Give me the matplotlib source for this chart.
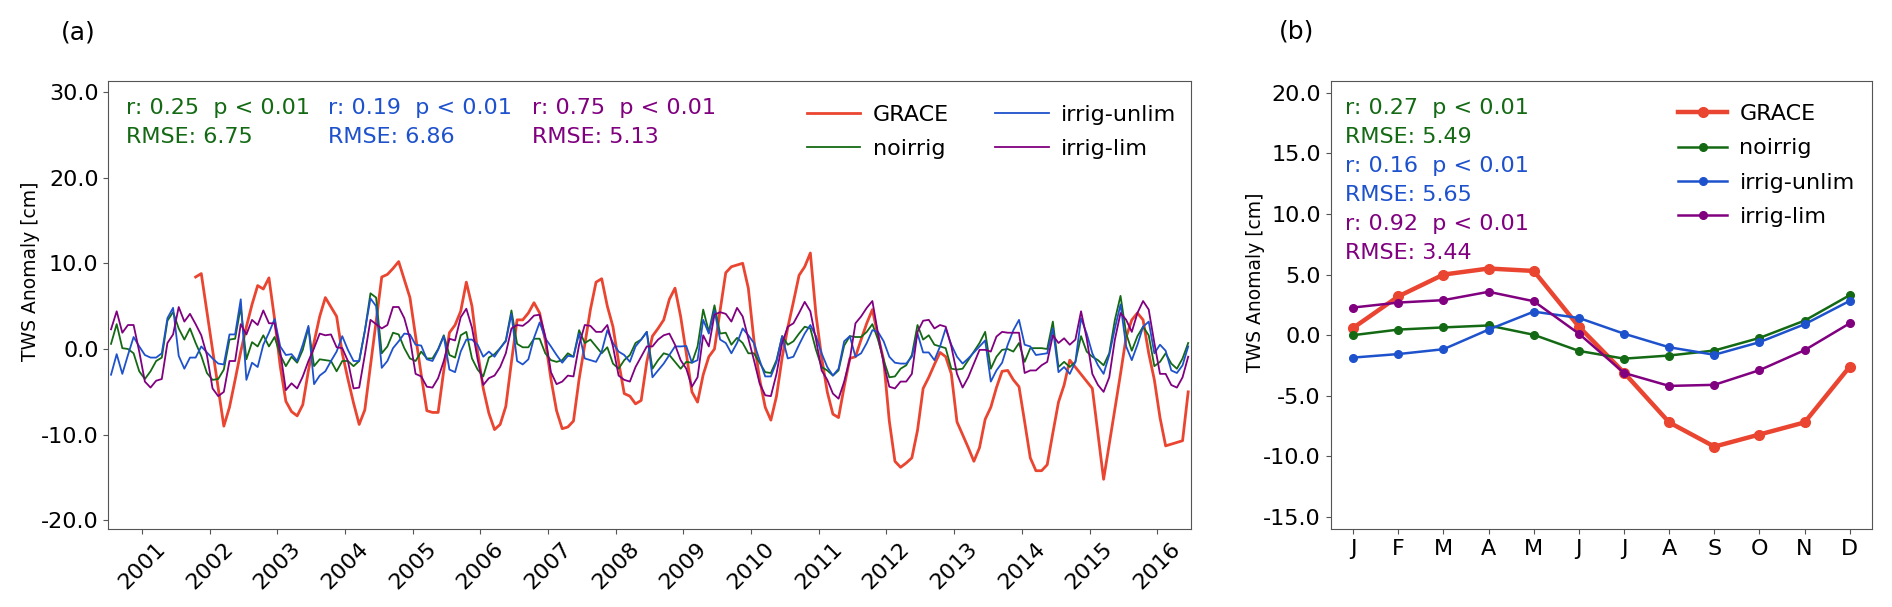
import numpy as np
import matplotlib
matplotlib.use("Agg")
import matplotlib.pyplot as plt
from matplotlib.ticker import FormatStrFormatter

nan = np.nan

# monthly TWS anomaly [cm], Jul 2000 .. Jun 2016 (one row = 12 months)
grace = [
    nan, nan, nan, nan, nan, nan, nan, nan, nan, nan, nan, nan,
    nan, nan, nan, 8.4, 8.8, nan, nan, nan, -9.0, -6.8, -3.6, -0.3,
    2.6, 5.2, 7.4, 7.0, 8.3, 3.5, -2.0, -6.1, -7.3, -7.8, -6.5, -2.5,
    0.8, 3.8, 6.0, 4.9, 3.8, -0.5, -3.5, -6.3, -8.8, -7.1, -2.0, 3.2,
    8.4, 8.7, 9.4, 10.2, 8.1, 6.0, 1.5, -3.0, -7.2, -7.4, -7.4, -2.5,
    1.9, 2.8, 4.4, 7.8, 5.0, -0.3, -4.6, -7.5, -9.4, -8.8, -6.7, -1.5,
    3.4, 3.4, 4.2, 5.4, 4.2, 1.0, -3.5, -7.2, -9.3, -9.1, -8.4, -3.5,
    0.5, 4.6, 7.8, 8.2, 5.0, 2.6, -1.5, -5.2, -5.5, -6.4, -6.0, -1.5,
    1.5, 2.4, 3.4, 5.8, 7.1, 3.8, -0.5, -5.0, -6.2, -3.0, -0.9, 0.0,
    4.5, 8.9, 9.6, 9.8, 10.0, 7.1, 1.0, -3.5, -6.8, -8.3, -5.5, -1.0,
    2.5, 5.5, 8.6, 9.6, 11.2, 4.0, -1.0, -5.0, -7.6, -8.0, -4.4, -1.1,
    -0.9, 1.1, 3.0, 4.6, 1.5, -1.3, -8.4, -13.1, -13.8, -13.3, -12.7, -9.5,
    -4.6, -3.3, -1.8, -0.4, -0.9, -2.9, -8.5, -10.0, -11.5, -13.1, -11.5, -8.2,
    -6.8, -4.5, -2.6, -2.5, -3.6, -4.4, -8.5, -12.7, -14.2, -14.2, -13.5, -9.8,
    -6.2, -4.2, -1.3, nan, nan, nan, -4.6, nan, -15.2, nan, nan, -2.9,
    1.4, 3.4, 4.2, 3.4, -0.5, -3.6, -8.0, -11.3, -11.1, -10.9, -10.7, -5.0,
]

noirrig = [
    0.6, 2.9, 0.1, 0.0, -0.5, -2.6, -3.5, -2.6, -1.4, -1.0, 3.3, 4.3,
    2.4, 1.1, 2.4, 0.7, -0.8, -2.8, -3.6, -3.5, -2.4, 1.1, 1.2, 4.9,
    -1.2, 0.8, 0.3, 1.6, 0.3, 1.4, -0.7, -2.0, -0.9, -1.6, -0.1, 2.5,
    -2.0, -1.2, -1.3, -1.4, -2.6, -1.4, -1.4, -2.0, -1.4, 2.1, 6.5, 6.0,
    -0.5, 0.3, 1.9, 1.7, 0.1, -1.1, -1.4, -0.3, -1.1, -1.1, 0.0, 1.6,
    -0.7, -1.0, 1.6, 2.0, -1.1, -2.4, -3.2, -1.0, -0.6, 0.1, 1.0, 4.5,
    0.6, 0.2, 0.2, 1.2, 1.2, -0.5, -1.3, -1.5, -1.3, -0.5, -0.9, 2.2,
    0.7, 1.1, 0.3, -0.5, 0.2, -1.7, -2.3, -1.3, -0.7, 0.7, 1.1, 2.0,
    -2.3, -1.3, -0.5, -0.7, -1.5, -2.3, -1.5, -1.6, 0.3, 4.6, 2.0, 5.1,
    1.8, 1.9, 0.5, 1.3, 0.7, -0.5, -0.5, -1.6, -2.7, -2.8, -1.3, 1.5,
    0.5, 0.9, 1.8, 2.6, 2.4, -0.1, -2.1, -2.5, -3.1, -2.5, 0.4, 1.5,
    1.4, 1.4, 2.0, 2.9, 1.1, -1.3, -3.3, -3.2, -2.3, -1.9, -0.7, 2.8,
    1.1, 1.6, 0.5, 0.3, 0.1, -2.3, -2.4, -2.3, -1.3, -0.3, 0.7, 2.0,
    -2.3, -0.9, -0.1, 0.0, -0.3, 0.7, -1.5, 0.1, 0.1, 0.1, 0.0, 3.2,
    -2.1, -1.5, -2.1, -1.5, 1.5, -0.3, -0.9, -1.3, -1.9, -0.5, 3.4, 6.2,
    1.8, -0.2, 1.5, 2.6, 1.6, -2.0, -1.5, -0.5, -1.7, -2.3, -1.1, 0.7,
]

irrig_unlim = [
    -3.0, -0.6, -2.9, -0.7, 1.4, 0.3, -0.7, -1.0, -1.0, -0.5, 3.6, 4.8,
    -0.8, -2.3, -1.0, -1.0, 0.3, -0.4, -1.1, -1.7, -1.8, 1.7, 1.7, 5.8,
    -3.6, -1.6, -2.1, 0.5, 1.9, 3.5, 0.3, -0.7, -0.6, -1.4, 0.5, 2.7,
    -4.1, -3.1, -2.6, -1.4, -0.3, 1.5, -0.1, -1.4, -1.4, 2.1, 5.9, 5.0,
    -2.2, -1.4, 0.1, 0.9, 1.8, 1.7, 0.5, 0.4, -1.2, -1.4, -0.1, 1.5,
    -2.4, -2.7, -0.3, 1.1, 1.1, 0.5, -0.9, -0.3, -0.9, 0.1, 0.9, 4.1,
    -1.4, -1.8, -1.2, 1.3, 3.1, 1.25, 0.3, -0.7, -1.6, -0.8, -0.9, 1.8,
    -1.1, -1.3, -1.5, -0.3, 2.2, 0.7, -0.3, -0.7, -1.5, 0.3, 1.1, 2.0,
    -3.3, -2.5, -1.7, -0.7, 0.3, 0.3, 0.35, -1.6, -1.3, 3.4, 1.8, 4.5,
    1.1, 0.7, -0.5, 0.7, 2.4, 1.6, 0.7, -1.3, -3.2, -3.2, -1.5, 1.5,
    -1.1, -0.9, 0.5, 1.8, 2.8, 1.5, -0.5, -2.1, -3.1, -2.3, 0.9, 1.5,
    -0.9, -0.5, 0.7, 2.2, 2.0, 0.9, -0.9, -1.6, -1.7, -1.7, -0.9, 1.8,
    -0.4, -0.4, -1.3, 0.3, 2.4, 0.5, -0.9, -1.7, -1.1, -0.4, 0.3, 1.0,
    -3.8, -2.5, -1.6, 0.5, 2.2, 3.4, 0.5, 0.3, -0.7, -0.6, -0.5, 2.4,
    -2.7, -2.1, -2.9, -1.5, 3.6, 1.8, -0.5, -1.9, -2.9, -0.7, 2.4, 5.2,
    0.3, -1.3, 0.5, 2.6, 3.2, -0.5, 0.5, -0.2, -2.5, -2.8, -1.9, 0.3,
]

irrig_lim = [
    2.3, 4.4, 1.9, 2.8, 2.8, -0.3, -3.8, -4.5, -3.7, -3.5, 0.7, 1.7,
    4.9, 3.2, 4.1, 2.9, 1.6, -0.7, -4.6, -5.5, -5.0, -1.4, -1.4, 2.9,
    1.7, 3.4, 2.8, 4.5, 3.0, 3.0, -0.3, -4.8, -4.0, -4.6, -3.2, -1.4,
    0.1, 1.8, 1.6, 1.7, 0.2, 0.1, -1.4, -4.6, -4.5, -0.7, 3.4, 2.9,
    2.4, 2.8, 4.9, 4.9, 3.6, 1.2, -2.9, -3.2, -4.4, -4.5, -3.4, -1.4,
    1.2, 1.0, 3.7, 4.7, 2.5, -1.2, -4.2, -3.4, -3.1, -2.1, -0.5, 2.4,
    2.8, 2.7, 3.2, 3.9, 4.0, 1.5, -2.7, -4.1, -3.8, -3.1, -3.2, 0.5,
    2.8, 2.7, 2.0, 2.0, 2.8, 0.3, -3.1, -3.6, -3.8, -2.1, -0.9, 0.3,
    0.3, 1.1, 1.6, 1.8, 0.5, -1.3, -2.3, -4.4, -3.3, 1.6, 0.3, 4.0,
    4.3, 4.1, 3.2, 4.8, 3.8, 1.25, -1.3, -4.0, -5.4, -5.5, -2.9, 0.7,
    2.6, 3.0, 4.2, 5.5, 4.4, 1.1, -2.5, -3.6, -5.2, -5.8, -3.8, -1.2,
    3.0, 3.8, 4.8, 5.6, 1.8, -1.7, -4.4, -4.6, -3.8, -3.8, -2.9, 2.0,
    3.3, 3.4, 2.4, 2.8, 2.6, 0.3, -2.9, -4.5, -3.3, -1.7, -0.1, -0.1,
    -0.3, 1.45, 2.0, 1.9, 1.9, 1.9, -2.8, -2.5, -2.5, -1.9, -1.5, 1.6,
    0.7, 1.25, 0.5, 1.1, 4.4, 1.25, -2.9, -4.2, -5.0, -3.3, 1.1, 4.2,
    3.4, 2.0, 4.2, 5.6, 4.6, 0.7, -2.9, -2.9, -4.2, -4.5, -3.3, -0.9,
]

# mean seasonal cycle
months = ["J", "F", "M", "A", "M", "J", "J", "A", "S", "O", "N", "D"]
clim_grace = [0.6, 3.2, 5.0, 5.5, 5.3, 0.7, -3.1, -7.2, -9.2, -8.2, -7.2, -2.6]
clim_noirrig = [0.0, 0.46, 0.64, 0.8, 0.03, -1.3, -1.94, -1.68, -1.27, -0.23, 1.2, 3.3]
clim_unlim = [-1.85, -1.56, -1.16, 0.46, 1.94, 1.42, 0.12, -1.0, -1.62, -0.58, 0.9, 2.83]
clim_lim = [2.28, 2.69, 2.89, 3.58, 2.8, 0.12, -3.12, -4.19, -4.1, -2.89, -1.24, 0.98]

stats_a = [("r: 0.25  p < 0.01", "RMSE: 6.75"),
           ("r: 0.19  p < 0.01", "RMSE: 6.86"),
           ("r: 0.75  p < 0.01", "RMSE: 5.13")]
stats_b = [("r: 0.27  p < 0.01", "RMSE: 5.49"),
           ("r: 0.16  p < 0.01", "RMSE: 5.65"),
           ("r: 0.92  p < 0.01", "RMSE: 3.44")]

c_grace = "#ea4530"
c_no = "#146a14"
c_unlim = "#1e52cc"
c_lim = "#800080"
model_colors = [c_no, c_unlim, c_lim]

plt.rcParams["font.size"] = 16

t = 2000.5 + (np.arange(len(noirrig)) + 0.5) / 12.0
g = np.array(grace)
ok = ~np.isnan(g)

fig = plt.figure(figsize=(18.92, 6.07), dpi=100)
ax_a = fig.add_axes([0.0572, 0.1285, 0.5723, 0.7385])
ax_b = fig.add_axes([0.7033, 0.1285, 0.2863, 0.7385])

# (a) time series
ax_a.plot(t[ok], g[ok], color=c_grace, lw=2.0, label="GRACE")
ax_a.plot(t, noirrig, color=c_no, lw=1.3, label="noirrig")
ax_a.plot(t, irrig_unlim, color=c_unlim, lw=1.3, label="irrig-unlim")
ax_a.plot(t, irrig_lim, color=c_lim, lw=1.3, label="irrig-lim")
ax_a.set_xlim(2000.5, 2016.5)
ax_a.set_ylim(-21, 31.3)
ax_a.set_xticks(range(2001, 2017))
ax_a.set_xticklabels([str(y) for y in range(2001, 2017)], rotation=45)
ax_a.set_yticks([-20, -10, 0, 10, 20, 30])
ax_a.yaxis.set_major_formatter(FormatStrFormatter("%.1f"))
ax_a.set_ylabel("TWS Anomaly [cm]", fontsize=13.5)
ax_a.yaxis.set_label_coords(-0.063, 0.575)
ax_a.legend(ncol=2, frameon=False, loc="upper left", bbox_to_anchor=(0.627, 0.99),
            handlelength=2.4, handletextpad=0.55, columnspacing=2.1, labelspacing=0.6)
for (r_txt, e_txt), xpos, col in zip(stats_a, [0.0163, 0.203, 0.391], model_colors):
    ax_a.text(xpos, 0.939, r_txt, color=col, transform=ax_a.transAxes, va="center")
    ax_a.text(xpos, 0.874, e_txt, color=col, transform=ax_a.transAxes, va="center")

# (b) seasonal cycle
mx = np.arange(1, 13)
ax_b.plot(mx, clim_grace, color=c_grace, lw=3.2, marker="o", ms=7, label="GRACE")
ax_b.plot(mx, clim_noirrig, color=c_no, lw=1.8, marker="o", ms=5.5, label="noirrig")
ax_b.plot(mx, clim_unlim, color=c_unlim, lw=1.8, marker="o", ms=5.5, label="irrig-unlim")
ax_b.plot(mx, clim_lim, color=c_lim, lw=1.8, marker="o", ms=5.5, label="irrig-lim")
ax_b.set_xlim(0.5, 12.5)
ax_b.set_ylim(-16, 21)
ax_b.set_xticks(mx)
ax_b.set_xticklabels(months)
ax_b.set_yticks([-15, -10, -5, 0, 5, 10, 15, 20])
ax_b.yaxis.set_major_formatter(FormatStrFormatter("%.1f"))
ax_b.set_ylabel("TWS Anomaly [cm]", fontsize=13.5)
ax_b.yaxis.set_label_coords(-0.121, 0.55)
ax_b.legend(frameon=False, loc="upper left", bbox_to_anchor=(0.605, 0.993),
            handlelength=2.2, handletextpad=0.55, labelspacing=0.65)
ypos = [0.939, 0.874, 0.810, 0.745, 0.680, 0.616]
k = 0
for (r_txt, e_txt), col in zip(stats_b, model_colors):
    ax_b.text(0.0264, ypos[k], r_txt, color=col, transform=ax_b.transAxes, va="center")
    ax_b.text(0.0264, ypos[k + 1], e_txt, color=col, transform=ax_b.transAxes, va="center")
    k += 2

for ax in (ax_a, ax_b):
    for s in ax.spines.values():
        s.set_edgecolor("#555555")
    ax.tick_params(color="#555555")

fig.text(0.0412, 0.947, "(a)", fontsize=18, ha="center", va="center")
fig.text(0.6854, 0.948, "(b)", fontsize=18, ha="center", va="center")

fig.savefig("out.png", dpi=100)
